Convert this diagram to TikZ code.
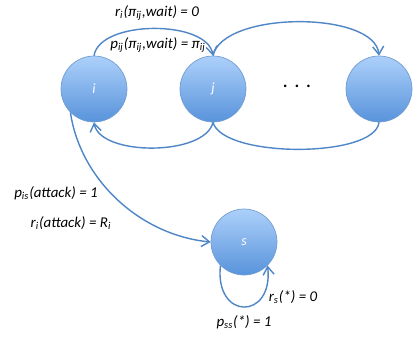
\documentclass[tikz,border=0pt]{standalone}
\usepackage{fontspec}
\setmainfont{Carlito}
\usepackage{tikz}
\usetikzlibrary{positioning,arrows.meta}
\usepackage{xcolor}
\definecolor{edgeblue}{HTML}{4F86C6}
\definecolor{toplight}{HTML}{ADD0FA}
\definecolor{botdark}{HTML}{5893DB}

\begin{document}
\begin{tikzpicture}[
  x=0.02cm, y=-0.02cm,
  state/.style={circle, draw=edgeblue!80, line width=0.4pt, minimum size=1.32cm,
    inner sep=0pt, top color=toplight, bottom color=botdark,
    text=white, font=\fontsize{8}{9}\selectfont\itshape},
  lbl/.style={inner sep=0pt, font=\fontsize{8.5}{10}\selectfont\itshape},
  link/.style={edgeblue, line width=0.8pt},
  arrow/.style={link, -{Straight Barb[length=1.6mm,width=2.2mm]}}
]
  \useasboundingbox (0,0) rectangle (415,338);

  \node[state] (i) at (94,89)  {i};
  \node[state] (j) at (213,89) {j};
  \node[state] (k) at (379,89) {};
  \node[state] (s) at (244,242) {s};
  \node[inner sep=0pt, font=\large] (dots) at (297,86) {. . .};

  % top arcs
  \draw[arrow] (i.north) .. controls +(6,-36) and +(-6,-36) .. (j.north);
  \draw[arrow] (j.north) .. controls +(10,-45) and +(-4,-45) .. (k.north);
  % bottom arcs
  \draw[arrow] (j.south) .. controls +(-8,34) and +(6,34) .. (i.south);
  \draw[link] (k.south) .. controls +(-4,36) and +(10,36) .. (j.south);
  % attack edge and sink loop
  \draw[arrow] (i.225) .. controls +(10,67) and +(-71,-7) .. (s.west);
  \draw[arrow] (s.225) .. controls +(-6,55) and +(6,55) .. (s.315);

  \node[lbl] (rwait) at (157,13) {r\textsubscript{i}(π\textsubscript{ij},wait) = 0};
  \node[lbl] (pwait) at (158,45) {p\textsubscript{ij}(π\textsubscript{ij},wait) = π\textsubscript{ij}};
  \node[lbl] (patk)  at (56,193) {p\textsubscript{is}(attack) = 1};
  \node[lbl] (ratk)  at (71,223) {r\textsubscript{i}(attack) = R\textsubscript{i}};
  \node[lbl] (rs)    at (293,297) {r\textsubscript{s}(*) = 0};
  \node[lbl] (pss)   at (244,322) {p\textsubscript{ss}(*) = 1};
\end{tikzpicture}
\end{document}
